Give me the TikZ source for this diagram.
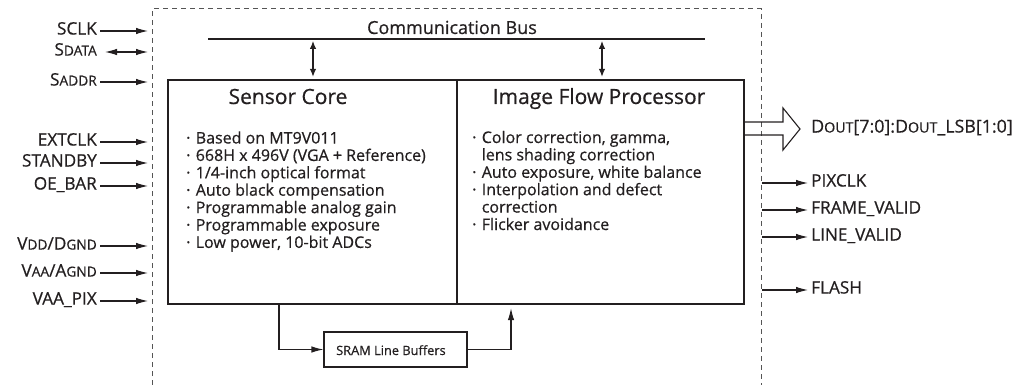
\documentclass[tikz,border=0pt]{standalone}
\usepackage{fontspec}
\usepackage{graphicx}
\setmainfont{Open Sans}[FakeBold=0.6]
\usetikzlibrary{arrows.meta}
% small capitals made from scaled capitals
\newcommand{\smc}[1]{\scalebox{0.8}{#1}}
% bullet that keeps continuation lines aligned
\newcommand{\bul}{\makebox[0.6em][l]{·}}
\newcommand{\cont}{\hspace*{0.6em}}
\definecolor{ink}{HTML}{231F20}
\definecolor{dashgray}{HTML}{555555}
\tikzset{
  sig/.style={font=\fontsize{17.2}{19}\selectfont, text=ink, inner xsep=3pt, inner ysep=0pt, text height=0.71em, text depth=0pt},
  sigarrow/.style={draw=ink, line width=1.1pt, -{Latex[length=12pt,width=6.5pt]}},
  busarrow/.style={draw=ink, line width=1.1pt, {Latex[length=8pt,width=6.5pt]}-{Latex[length=8pt,width=6.5pt]}},
  flow/.style={draw=ink, line width=1.1pt, -{Latex[length=12pt,width=6.5pt]}},
  mainbox/.style={draw=ink, line width=2.4pt, inner sep=0pt},
  title/.style={font=\fontsize{21}{23}\selectfont, text=ink, inner sep=0pt},
  item/.style={font=\fontsize{16}{17}\selectfont, text=ink, inner sep=0pt, anchor=base west},
  chipedge/.style={draw=dashgray, line width=1pt, dash pattern=on 5pt off 4pt},
}
\begin{document}
\begin{tikzpicture}[x=1pt, y=-1pt]
\useasboundingbox (0,0) rectangle (1022,385);

% chip outline (dashed)
\draw[chipedge] (152,385) -- (152,9) -- (761,9) -- (761,385);

% output data bus (hollow arrow)
\draw[draw=ink, line width=1.1pt, line join=miter]
  (744,122) -- (783,122) -- (783,108) -- (800,129) -- (783,150) -- (783,135) -- (744,135);
\node[sig, anchor=west, font=\fontsize{17.8}{19}\selectfont] (dout) at (808,129)
  {D\smc{OUT}[7:0]:D\smc{OUT}\_LSB[1:0]};

% communication bus
\coordinate (busL) at (208,39);
\coordinate (busR) at (705,39);
\draw[draw=ink, line width=2.4pt] (busL) -- (busR);
\node[font=\fontsize{18}{20}\selectfont, text=ink, inner sep=0pt, anchor=base] (buslbl) at (452,34) {Communication Bus};

% main blocks
\node[mainbox, minimum width=289pt, minimum height=224pt] (core) at (312.5,192) {};
\node[mainbox, minimum width=287pt, minimum height=224pt] (ifp) at (600.5,192) {};

\node[title, anchor=base] (coret) at (288,104) {Sensor Core};
\node[title, anchor=base] (ifpt) at (599,104) {Image Flow Processor};

\foreach \t [count=\i] in {
  {Based on MT9V011},
  {668H x 496V (VGA + Reference)},
  {1/4-inch optical format},
  {Auto black compensation},
  {Programmable analog gain},
  {Programmable exposure},
  {Low power, 10-bit ADCs}}
  \node[item] (core\i) at (186,143.5+17.4*\i-17.4) {\bul\t};

\foreach \t [count=\i] in {
  {\bul Color correction, gamma,},
  {\cont lens shading correction},
  {\bul Auto exposure, white balance},
  {\bul Interpolation and defect},
  {\cont correction},
  {\bul Flicker avoidance}}
  \node[item] (ifp\i) at (472,143+17.4*\i-17.4) {\t};

% bus taps
\coordinate (tapA) at (313,39);
\coordinate (tapB) at (602,39);
\draw[busarrow, shorten <=2pt, shorten >=2pt] (tapA) -- (tapA |- core.north);
\draw[busarrow, shorten <=2pt, shorten >=2pt] (tapB) -- (tapB |- ifp.north);

% line buffers
\node[draw=ink, line width=1.1pt, minimum width=143pt, minimum height=35pt, inner sep=0pt] (sram) at (395.5,349.5) {};
\node[font=\fontsize{12.8}{14}\selectfont, text=ink, inner sep=0pt, anchor=base west] (sramt) at (336,355) {SRAM Line Buffers};
\coordinate (coreOut) at (279,192);
\coordinate (ifpIn) at (511,192);
\draw[flow] (coreOut |- core.south) |- (sram.west);
\draw[flow, shorten >=3pt] (sram.east) -| (ifpIn |- ifp.south);

% input signals
\foreach \n/\y/\t in {
  sclk/31/{SCLK},
  saddr/82/{S\smc{ADDR}},
  extclk/142/{EXTCLK},
  standby/163/{STANDBY},
  oebar/186/{OE\_BAR},
  vdd/246/{V\smc{DD}/D\smc{GND}},
  vaa/273/{V\smc{AA}/A\smc{GND}},
  vaapix/301/{VAA\_PIX}}{
  \node[sig, anchor=east] (\n) at (100,\y) {\t};
  \coordinate (\n in) at (148,\y);
  \draw[sigarrow] (\n) -- (\n in);
}
\node[sig, anchor=east] (sdata) at (100,52) {S\smc{DATA}};
\coordinate (sdatain) at (148,52);
\draw[sigarrow, {Latex[length=12pt,width=6.5pt]}-{Latex[length=12pt,width=6.5pt]}] ([xshift=5pt]sdata.east) -- (sdatain);

% output signals
\foreach \n/\y/\t in {
  pixclk/183/{PIXCLK},
  fval/210/{FRAME\_VALID},
  lval/237/{LINE\_VALID},
  flash/290/{FLASH}}{
  \node[sig, anchor=west] (\n) at (808,\y) {\t};
  \coordinate (\n out) at (762,\y);
  \draw[sigarrow] (\n out) -- (\n);
}
\end{tikzpicture}
\end{document}
